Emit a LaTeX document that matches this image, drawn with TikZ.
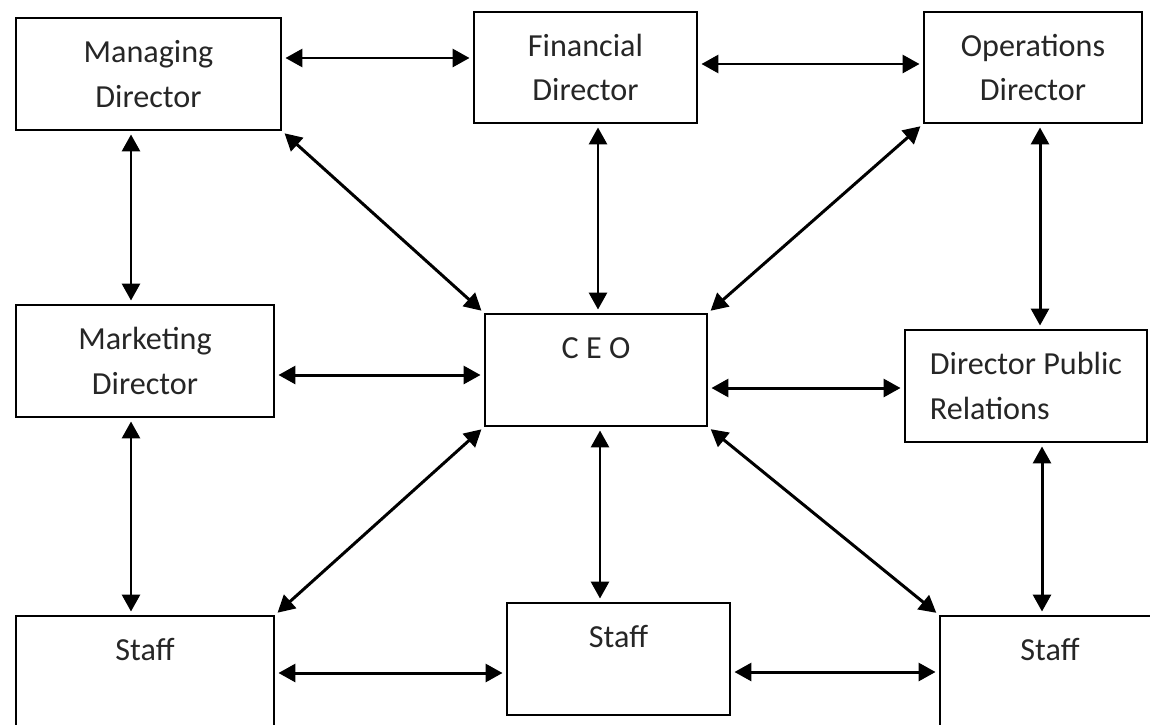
\documentclass[tikz,border=0pt]{standalone}
\usepackage{fontspec}
\setmainfont{Carlito}
\usetikzlibrary{arrows.meta}

\begin{document}
\begin{tikzpicture}[x=0.02cm, y=-0.02cm,
    box/.style={draw, line width=1.1pt, inner sep=0pt, align=center, text=black!85,
        font=\fontsize{18.3}{25.5}\selectfont},
    link/.style={{Triangle[length=0.34cm,width=0.36cm]}-{Triangle[length=0.34cm,width=0.36cm]},
        line width=1.7pt, shorten <=2pt, shorten >=2pt}]
    \clip (0,0) rectangle (1150,724);
    \node[box, minimum width=5.3cm, minimum height=2.24cm] (md) at (148.5,74) {Managing\\Director};
    \node[box, minimum width=4.46cm, minimum height=2.22cm] (fd) at (585.5,67.5) {Financial\\Director};
    \node[box, minimum width=4.36cm, minimum height=2.22cm] (od) at (1033,67.5) {Operations\\Director};
    \node[box, minimum width=5.16cm, minimum height=2.24cm] (mk) at (145,361) {Marketing\\Director};
    \node[box, minimum width=4.44cm, minimum height=2.24cm] (ceo) at (596,370) {C E O\\\mbox{}};
    \node[box, align=left, minimum width=4.84cm, minimum height=2.24cm] (pr) at (1026,386) {Director Public\\Relations};
    \node[box, minimum width=5.16cm, minimum height=2.24cm] (stl) at (145,672) {Staff\\\mbox{}};
    \node[box, minimum width=4.46cm, minimum height=2.24cm] (stm) at (618.5,659) {Staff\\\mbox{}};
    \node[box, minimum width=4.4cm, minimum height=2.24cm] (str) at (1050,672) {Staff\\\mbox{}};

    \draw[link] (md.east |- 0,58) -- (fd.west |- 0,58);
    \draw[link] (fd.east |- 0,64) -- (od.west |- 0,64);
    \draw[link] (md.south -| 131,0) -- (mk.north -| 131,0);
    \draw[link] (md.south east) -- (ceo.north west);
    \draw[link] (fd.south -| 598,0) -- (ceo.north -| 598,0);
    \draw[link] (od.south west) -- (ceo.north east);
    \draw[link] (od.south -| 1040,0) -- (pr.north -| 1040,0);
    \draw[link] (mk.east |- 0,375) -- (ceo.west |- 0,375);
    \draw[link] (ceo.east |- 0,388) -- (pr.west |- 0,388);
    \draw[link] (mk.south -| 131,0) -- (stl.north -| 131,0);
    \draw[link] (ceo.south west) -- (stl.north east);
    \draw[link] (ceo.south -| 600,0) -- (stm.north -| 600,0);
    \draw[link] (ceo.south east) -- (str.north west);
    \draw[link] (pr.south -| 1042,0) -- (str.north -| 1042,0);
    \draw[link] (stl.east |- 0,673) -- (stm.west |- 0,673);
    \draw[link] (stm.east |- 0,672) -- (str.west |- 0,672);
\end{tikzpicture}
\end{document}
